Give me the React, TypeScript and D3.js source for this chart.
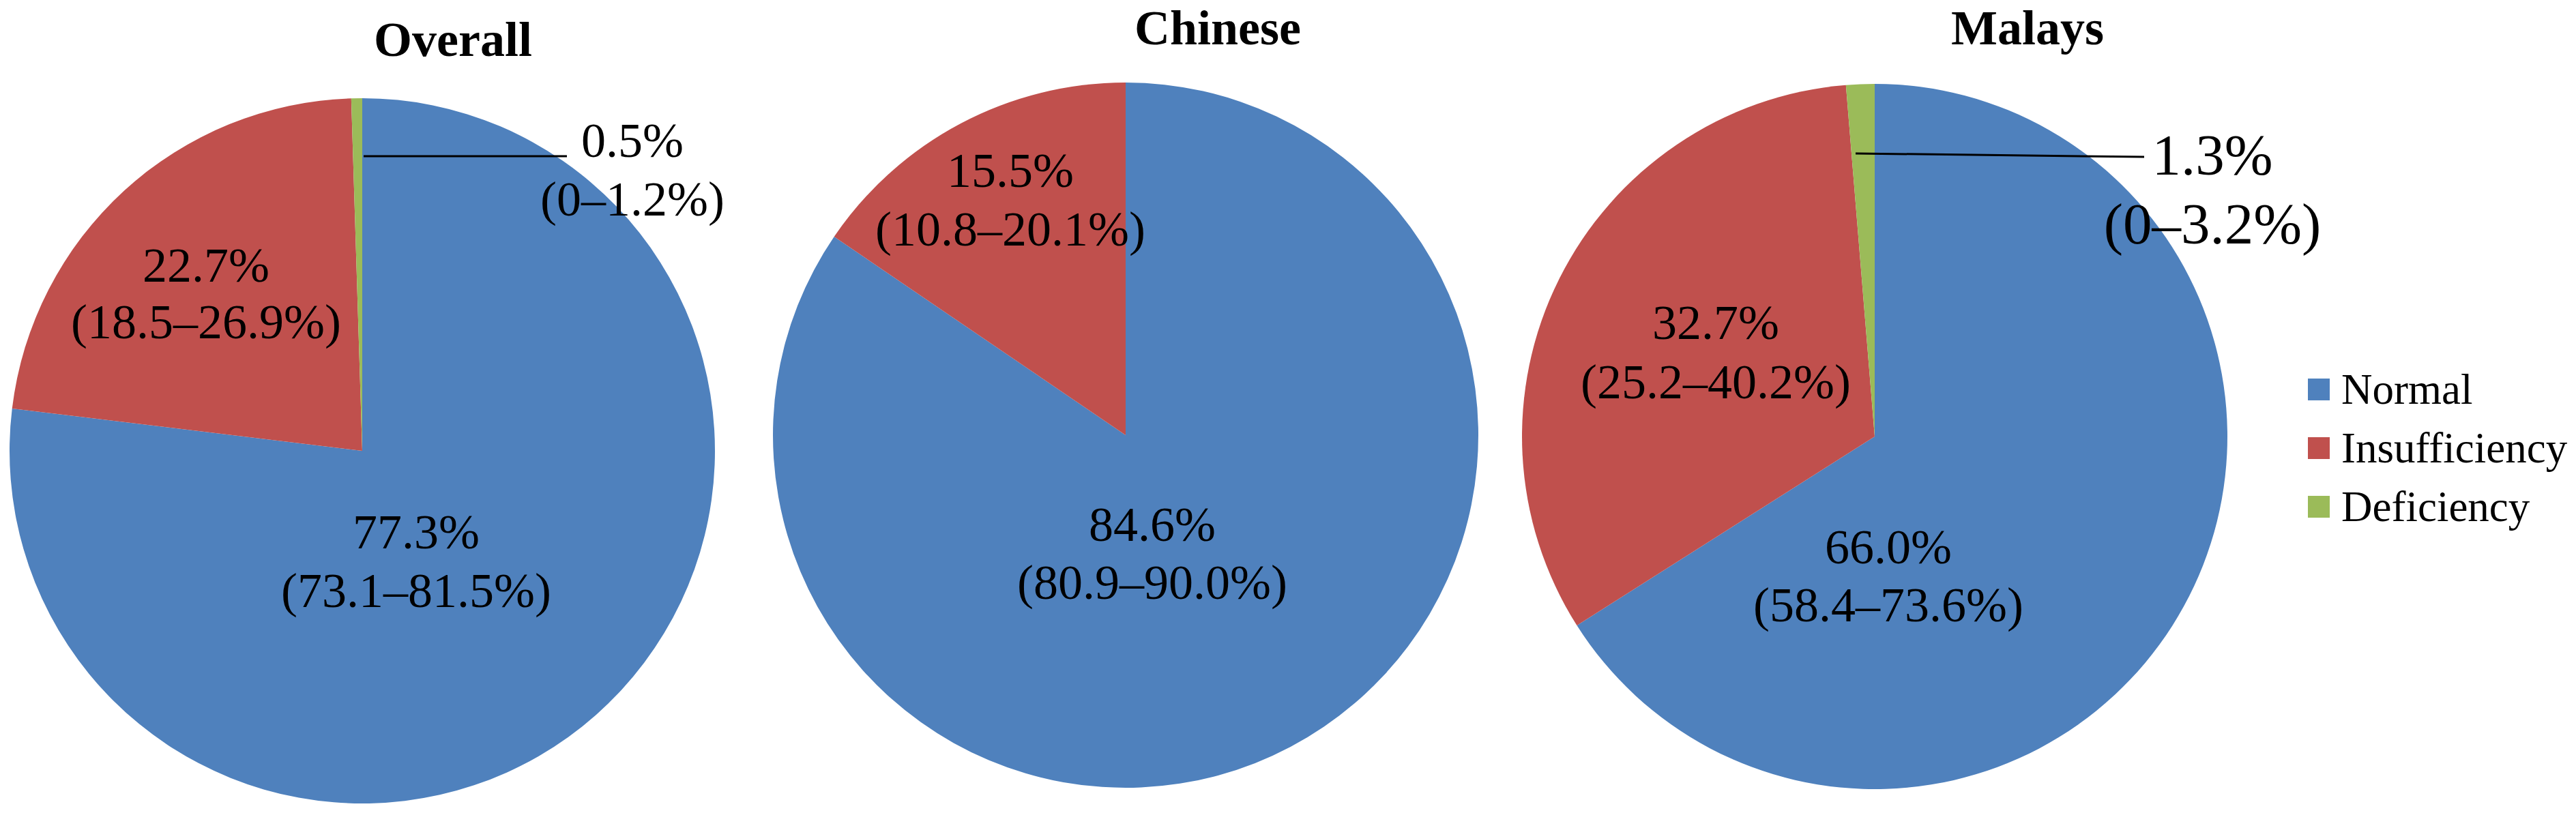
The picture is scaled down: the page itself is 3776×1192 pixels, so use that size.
import React from "react";
import * as d3 from "d3";

// ---------- data ----------
const categories = ["Normal", "Insufficiency", "Deficiency"];
const groups = ["Overall", "Chinese", "Malays"];
const overallValues = [77.3, 22.7, 0.5];
const chineseValues = [84.6, 15.5, 0];
const malaysValues = [66.0, 32.7, 1.3];
const overallCI = ["73.1–81.5%", "18.5–26.9%", "0–1.2%"];
const chineseCI = ["80.9–90.0%", "10.8–20.1%", ""];
const malaysCI = ["58.4–73.6%", "25.2–40.2%", "0–3.2%"];

const seriesValues = [overallValues, chineseValues, malaysValues];
const seriesCI = [overallCI, chineseCI, malaysCI];

// ---------- styles / layout ----------
const W = 3776;
const H = 1192;
const colors = ["#4F81BD", "#C0504D", "#9BBB59"];
const FONT = "'Liberation Serif', 'Times New Roman', serif";
const R = 517;

const pieLayout = [
  { cx: 531, cy: 661, titleX: 664, titleY: 82 },
  { cx: 1650, cy: 638, titleX: 1785, titleY: 65 },
  { cx: 2748, cy: 640, titleX: 2972, titleY: 65 },
];

// label anchor offsets from pie centre: dx, dy of first baseline, font size, line gap
// leader: [x1, y1, x2, y2] offsets from the pie centre, when present
type LabelPos = { dx: number; dy: number; fs: number; gap: number; leader?: number[] } | null;
const labelLayout: LabelPos[][] = [
  [
    { dx: 79, dy: 143, fs: 72, gap: 86 },
    { dx: -229, dy: -248, fs: 72, gap: 83 },
    { dx: 396, dy: -431, fs: 72, gap: 86, leader: [2, -432, 300, -432] },
  ],
  [
    { dx: 39, dy: 155, fs: 72, gap: 85 },
    { dx: -169, dy: -364, fs: 72, gap: 86 },
    null,
  ],
  [
    { dx: 20, dy: 186, fs: 72, gap: 85 },
    { dx: -233, dy: -143, fs: 72, gap: 87 },
    { dx: 495, dy: -384, fs: 85, gap: 101, leader: [-28, -415, 395, -410] },
  ],
];

const legendLayout = { x: 3383, y: 555, size: 32, step: 86, textX: 3432, fs: 63 };

export default function App() {
  const pie = d3
    .pie<number>()
    .sort(null)
    .startAngle(0)
    .endAngle(2 * Math.PI);
  const arc = d3.arc<d3.PieArcDatum<number>>().innerRadius(0).outerRadius(R);
  const fmt = d3.format(".1f");

  return (
    <svg
      width={W}
      height={H}
      style={{ position: "absolute", left: 0, top: 0, background: "#fff" }}
      fontFamily={FONT}
    >
      <rect x={0} y={0} width={W} height={H} fill="#fff" />
      {groups.map((g, gi) => {
        const L = pieLayout[gi];
        const arcs = pie(seriesValues[gi]);
        return (
          <g key={g}>
            <text
              x={L.titleX}
              y={L.titleY}
              textAnchor="middle"
              fontWeight="bold"
              fontSize={72}
              fill="#000"
            >
              {g}
            </text>
            <g transform={`translate(${L.cx},${L.cy})`}>
              {arcs.map((a, i) =>
                a.value > 0 ? (
                  <path key={categories[i]} d={arc(a) || ""} fill={colors[i]} />
                ) : null
              )}
              {arcs.map((a, i) => {
                const lp = labelLayout[gi][i];
                if (!lp || a.value <= 0) return null;
                return (
                  <g key={"l" + i}>
                    {lp.leader && (
                      <line
                        x1={lp.leader[0]}
                        y1={lp.leader[1]}
                        x2={lp.leader[2]}
                        y2={lp.leader[3]}
                        stroke="#000"
                        strokeWidth={3}
                      />
                    )}
                    <text
                      x={lp.dx}
                      y={lp.dy}
                      textAnchor="middle"
                      fontSize={lp.fs}
                      fill="#000"
                    >
                      {fmt(a.value) + "%"}
                    </text>
                    <text
                      x={lp.dx}
                      y={lp.dy + lp.gap}
                      textAnchor="middle"
                      fontSize={lp.fs}
                      fill="#000"
                    >
                      {"(" + seriesCI[gi][i] + ")"}
                    </text>
                  </g>
                );
              })}
            </g>
          </g>
        );
      })}
      <g>
        {categories.map((c, i) => (
          <g key={c}>
            <rect
              x={legendLayout.x}
              y={legendLayout.y + i * legendLayout.step}
              width={legendLayout.size}
              height={legendLayout.size}
              fill={colors[i]}
            />
            <text
              x={legendLayout.textX}
              y={legendLayout.y + i * legendLayout.step + legendLayout.size / 2}
              dominantBaseline="central"
              fontSize={legendLayout.fs}
              fill="#000"
            >
              {c}
            </text>
          </g>
        ))}
      </g>
    </svg>
  );
}
